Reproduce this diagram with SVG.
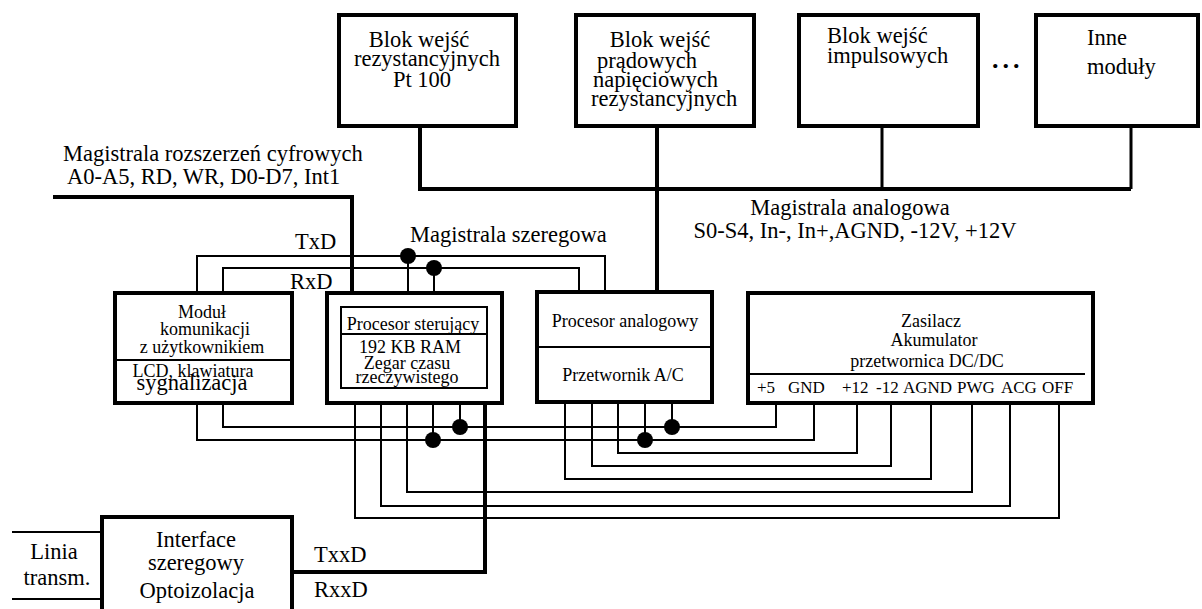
<svg xmlns="http://www.w3.org/2000/svg" width="1202" height="609" viewBox="0 0 1202 609">
<style>
text{font-family:"Liberation Serif","Times New Roman",serif;fill:#000}
.t22{font-size:22.5px}
.t18{font-size:18px}
.t17{font-size:17px}
.m{text-anchor:middle}
.box{fill:#fff;stroke:#000;stroke-width:4}
.inner{fill:none;stroke:#000;stroke-width:2}
.w{fill:none;stroke:#000;stroke-width:2}
.thick{fill:none;stroke:#000;stroke-width:4}
.mid{fill:none;stroke:#000;stroke-width:3}
.dot{fill:#000}
</style>
<rect width="1202" height="609" fill="#fff"/>
<g id="connectors">
<path class="thick" d="M420 126V189H1131M657 126V292"/>
<path class="mid" d="M882 126V189M1131 126V189"/>
<path class="thick" d="M53 197H352V293"/>
<path class="w" d="M197 293V256H605V292M223 293V268H579V292M408 256V293M434 268V293"/>
<path class="w" d="M223 403V427H776V401M197 403V440H814V401M460 403V427M433 403V440M672 402V427M645 402V440"/>
<path class="w" d="M618 402V453H857V401M592 402V466H891V401M565 402V479H931V401M407 403V492H972V398M381 403V506H1010V398M355 403V518H1059V398"/>
<path class="thick" d="M485 403V572H292"/>
<path class="w" d="M12 532H102M12 599H102"/>
<circle class="dot" cx="408" cy="256" r="8"/>
<circle class="dot" cx="434" cy="268" r="8"/>
<circle class="dot" cx="460" cy="427" r="8"/>
<circle class="dot" cx="433" cy="440" r="8"/>
<circle class="dot" cx="672" cy="427" r="8"/>
<circle class="dot" cx="645" cy="440" r="8"/>
</g>
<g id="blok-pt100">
<rect class="box" x="339" y="15" width="177" height="111"/>
<text class="t22 m" x="419" y="47">Blok wejść</text>
<text class="t22 m" x="427" y="66">rezystancyjnych</text>
<text class="t22 m" x="422" y="87">Pt 100</text>
</g>
<g id="blok-pradowych">
<rect class="box" x="576" y="15" width="178" height="111"/>
<text class="t22 m" x="660" y="47">Blok wejść</text>
<text class="t22" x="597" y="68">prądowych</text>
<text class="t22" x="593" y="87">napięciowych</text>
<text class="t22" x="591" y="106">rezystancyjnych</text>
</g>
<g id="blok-impulsowych">
<rect class="box" x="799" y="15" width="179" height="111"/>
<text class="t22" x="827" y="43">Blok wejść</text>
<text class="t22" x="827" y="63">impulsowych</text>
</g>
<g id="ellipsis">
<text x="992" y="68" style="font-size:26px;font-weight:bold;letter-spacing:4px">...</text>
</g>
<g id="inne-moduly">
<rect class="box" x="1036" y="15" width="162" height="111"/>
<text class="t22" x="1087" y="45">Inne</text>
<text class="t22" x="1087" y="74">moduły</text>
</g>
<g id="labels">
<text class="t22" x="63" y="161">Magistrala rozszerzeń cyfrowych</text>
<text class="t22" x="67" y="184">A0-A5, RD, WR, D0-D7, Int1</text>
<text class="t22" x="295" y="249">TxD</text>
<text class="t22" x="290" y="289">RxD</text>
<text class="t22" x="410" y="242">Magistrala szeregowa</text>
<text class="t22 m" x="850" y="215">Magistrala analogowa</text>
<text class="t22 m" x="855" y="238">S0-S4, In-, In+,AGND, -12V, +12V</text>
<text class="t22" x="314" y="562">TxxD</text>
<text class="t22" x="314" y="597">RxxD</text>
<text class="t22 m" x="54" y="559">Linia</text>
<text class="t22 m" x="57" y="585">transm.</text>
</g>
<g id="modul-komunikacji">
<rect class="box" x="115" y="293" width="177" height="110"/>
<path class="inner" d="M115 360H292"/>
<text class="t18 m" x="202" y="318">Moduł</text>
<text class="t18 m" x="205" y="335">komunikacji</text>
<text class="t18 m" x="202" y="353">z użytkownikiem</text>
<text class="t18 m" x="193" y="377">LCD, klawiatura</text>
<text class="t22 m" x="192" y="390">sygnalizacja</text>
</g>
<g id="procesor-sterujacy">
<rect class="box" x="327" y="293" width="175" height="110"/>
<rect class="inner" x="341" y="307" width="146" height="81"/>
<path class="inner" d="M341 334H487"/>
<text class="t18 m" x="413" y="330">Procesor sterujący</text>
<text class="t18 m" x="410" y="353">192 KB RAM</text>
<text class="t18 m" x="407" y="369">Zegar czasu</text>
<text class="t18 m" x="407" y="383">rzeczywistego</text>
</g>
<g id="procesor-analogowy">
<rect class="box" x="537" y="292" width="175" height="110"/>
<path class="inner" d="M537 347H712"/>
<text class="t18 m" x="625" y="327">Procesor analogowy</text>
<text class="t18 m" x="623" y="381">Przetwornik A/C</text>
</g>
<g id="zasilacz">
<rect class="box" x="748" y="293" width="345" height="110"/>
<path class="inner" d="M748 374H1085"/>
<text class="t18 m" x="931" y="327">Zasilacz</text>
<text class="t18 m" x="934" y="346">Akumulator</text>
<text class="t18 m" x="927" y="367">przetwornica DC/DC</text>
<text class="t17" x="757" y="393">+5</text>
<text class="t17" x="788" y="393">GND</text>
<text class="t17" x="842" y="393">+12</text>
<text class="t17" x="876" y="393">-12</text>
<text class="t17" x="903" y="393">AGND</text>
<text class="t17" x="957" y="393">PWG</text>
<text class="t17" x="1001" y="393">ACG</text>
<text class="t17" x="1042" y="393">OFF</text>
</g>
<g id="interface-szeregowy">
<rect class="box" x="102" y="517" width="190" height="100"/>
<text class="t22 m" x="196" y="547">Interface</text>
<text class="t22 m" x="196" y="570">szeregowy</text>
<text class="t22 m" x="197" y="598">Optoizolacja</text>
</g>
</svg>
